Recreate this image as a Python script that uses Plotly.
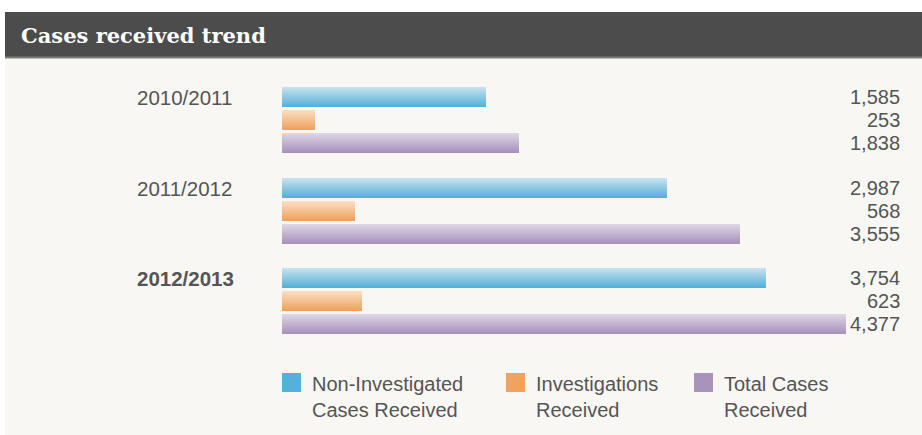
import plotly.graph_objects as go

# ---- data ----
years = ["2010/2011", "2011/2012", "2012/2013"]
series_names = ["Non-Investigated<br>Cases Received", "Investigations<br>Received", "Total Cases<br>Received"]
non_investigated = [1585, 2987, 3754]
investigations = [253, 568, 623]
total_cases = [1838, 3555, 4377]

# ---- style ----
W, H = 922, 435
BAR_X0 = 282          # px where bars start
X_END = 900           # px right edge of plot
LABEL_X = 902
K = 0.1288            # px per case
FIRST_Y = 97          # px centre of first bar
BAR_PITCH = 23
GROUP_PITCH = 90.7
BAR_H = 20
N_STRIPES = 20
FONT = "Liberation Sans, Arial, sans-serif"
TXT = "#555555"

grads = [("#c6e2ee", "#55b0d9"), ("#fbdfc2", "#f0a05c"), ("#ddd6e4", "#a890bc")]
legend_cols = ["#54b1d9", "#f0a35f", "#a993bd"]
values = [non_investigated, investigations, total_cases]


def hex2rgb(h):
    h = h.lstrip("#")
    return tuple(int(h[i:i + 2], 16) for i in (0, 2, 4))


def mix(c1, c2, t):
    a, b = hex2rgb(c1), hex2rgb(c2)
    return "rgb(%d,%d,%d)" % tuple(round(a[i] + (b[i] - a[i]) * t) for i in range(3))


def px(x):
    return x / W


fig = go.Figure()

for s, vals in enumerate(values):
    centres = [round(FIRST_Y + g * GROUP_PITCH) + s * BAR_PITCH for g in range(len(years))]
    sh = BAR_H / N_STRIPES
    for k in range(N_STRIPES):
        t = k / (N_STRIPES - 1)
        off = -BAR_H / 2 + sh * (k + 0.5)
        fig.add_trace(go.Bar(
            x=vals, y=[c + off for c in centres], orientation="h",
            width=sh, marker=dict(color=mix(grads[s][0], grads[s][1], t), line=dict(width=0)),
            showlegend=False, hoverinfo="skip"))
    for g, v in enumerate(vals):
        fig.add_annotation(x=px(LABEL_X), xref="paper", y=centres[g], yref="y",
                           text=f"{v:,}", showarrow=False, xanchor="right", yanchor="middle",
                           font=dict(family=FONT, size=20, color=TXT))

for g, yr in enumerate(years):
    label = f"<b>{yr}</b>" if g == len(years) - 1 else yr
    fig.add_annotation(x=px(135), xref="paper", y=round(FIRST_Y + g * GROUP_PITCH), yref="y",
                       text=label, showarrow=False, xanchor="left", yanchor="middle",
                       font=dict(family=FONT, size=20.5, color=TXT))

shapes = [
    dict(type="rect", xref="paper", yref="paper", x0=px(5), x1=1, y0=0, y1=1 - 58 / H,
         fillcolor="#f8f7f3", line_width=0, layer="below"),
    dict(type="rect", xref="paper", yref="paper", x0=px(5), x1=1, y0=1 - 57 / H, y1=1 - 12 / H,
         fillcolor="#4b4c4b", line_width=0, layer="below"),
    dict(type="rect", xref="paper", yref="paper", x0=px(5), x1=1, y0=1 - 58.5 / H, y1=1 - 56.5 / H,
         fillcolor="#7d7e7b", line_width=0, layer="below"),
]

leg_sq_x = [282, 506, 694]
leg_tx_x = [310, 534, 722]
for i in range(3):
    shapes.append(dict(type="rect", xref="paper", yref="y", x0=px(leg_sq_x[i]), x1=px(leg_sq_x[i] + 19),
                       y0=373, y1=392, fillcolor=legend_cols[i], line_width=0))
    fig.add_annotation(x=px(leg_tx_x[i]), xref="paper", y=371, yref="y", text=series_names[i],
                       showarrow=False, xanchor="left", yanchor="top", align="left",
                       font=dict(family=FONT, size=20, color=TXT))

fig.add_annotation(x=px(19), xref="paper", y=35, yref="y", text="<b>Cases received trend</b>",
                   showarrow=False, xanchor="left", yanchor="middle",
                   font=dict(family="DejaVu Serif, serif", size=21, color="white"))

fig.update_layout(
    width=W, height=H, margin=dict(l=0, r=0, t=0, b=0),
    paper_bgcolor="white", plot_bgcolor="rgba(0,0,0,0)",
    barmode="overlay", bargap=0, shapes=shapes, showlegend=False,
    xaxis=dict(domain=[px(BAR_X0), px(X_END)], range=[0, (X_END - BAR_X0) / K], visible=False, fixedrange=True),
    yaxis=dict(domain=[0, 1], range=[H, 0], visible=False, fixedrange=True),
)

fig.write_html("out.html", config={"displayModeBar": False})
